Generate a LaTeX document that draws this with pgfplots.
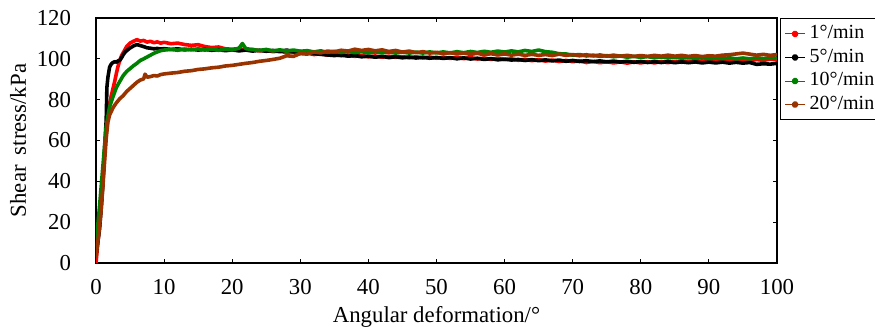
\documentclass[border=0pt]{standalone}
\usepackage{fontspec}
\setmainfont{Liberation Serif}
\usepackage{pgfplots}
\pgfplotsset{compat=1.18}
\definecolor{cRed}{RGB}{255,0,0}
\definecolor{cGreen}{RGB}{0,128,0}
\definecolor{cBrown}{RGB}{153,51,0}
\begin{document}
\fontsize{11.4}{13}\selectfont
\begin{tikzpicture}
\begin{axis}[
  at={(0pt,0pt)}, anchor=south west,
  width=340.5pt, height=122.5pt, scale only axis,
  xmin=0, xmax=100, ymin=0, ymax=120,
  xtick={0,10,...,100}, ytick={0,20,...,120},
  tick align=inside, major tick length=2pt,
  axis line style={line width=0.7pt}, tick style={line width=0.5pt, black},
  /pgf/number format/assume math mode=true,
  ticklabel style={font=\fontsize{11.4}{13}\selectfont},
  xticklabel style={yshift=-4pt},
  yticklabel style={xshift=-8.5pt},
  xlabel={Angular deformation/°},
  ylabel={Shear\hspace{0.45em}stress/kPa},
  xlabel style={at={(axis description cs:0.5,-0.22)}, anchor=center, font=\fontsize{11.4}{13}\selectfont},
  ylabel style={at={(axis description cs:-0.1145,0.5)}, anchor=center, rotate=0, font=\fontsize{11.4}{13}\selectfont},
  legend style={at={(1,1)}, anchor=north west, xshift=1.5pt, draw=black, line width=0.6pt,
     font=\fontsize{10}{11}\selectfont, inner xsep=2pt, inner ysep=1.5pt, row sep=-0.6pt,
     cells={anchor=west}},
  legend image code/.code={\draw[#1,line width=0.5pt] (0pt,0pt) -- (10pt,0pt); \fill[#1] (5pt,0pt) circle (0.9pt);},
  every axis plot/.append style={line width=1.8pt, line join=round, no marks},
]
\addplot[cRed] coordinates {
(0,0) (0.25,9) (0.5,18) (0.75,28) (1,40) (1.25,53) (1.5,64) (1.75,72) (2,78) (2.25,82) (2.5,85.5) (2.75,89) (3,93) (3.25,96.5) (3.5,99.4) (3.75,101.5) (4,103) (4.5,106) (5,107.7) (5.5,108.6) (6,109.4) (6.5,108.7) (7,109) (7.5,108.2) (8,108.6) (8.5,107.9) (9,108.3) (9.5,107.7) (10,108.1)
(11,107.4) (12,107.7) (13,107) (14,106.6) (15,106.9) (16,106) (17,105.5) (18,105.8) (19,104.9) (20,104.7) (21,105) (22,104.3) (23,104.6) (24,103.9) (25,104.2) (26,103.5) (27,103.9) (28,102.9) (29,103.3) (30,102.6)
(31,102.9) (32,102.1) (33,102.5) (34,101.8) (35,102.2) (36,101.5) (37,101.9) (38,101.2) (39,101.6) (40,101) (41,101.4) (42,100.8) (43,101.3) (44,100.7) (45,101.1) (46,100.5) (47,101) (48,100.4) (49,100.9) (50,100.3)
(51,100.8) (52,100.2) (53,100.7) (54,100.1) (55,100.6) (56,99.9) (57,100.4) (58,99.7) (59,100.2) (60,99.6) (61,100) (62,99.3) (63,99.8) (64,99.1) (65,99.6) (66,98.9) (67,99.4) (68,98.7) (69,99.2) (70,98.6)
(71,99) (72,98.2) (73,98.8) (74,98.1) (75,98.6) (76,98) (77,98.5) (78,97.9) (79,98.5) (80,98) (81,98.6) (82,98) (83,98.7) (84,98.1) (85,98.8) (86,98.3) (87,98.9) (88,98.4) (89,99) (90,98.5)
(91,99.1) (92,98.6) (93,99.2) (94,98.7) (95,99.4) (96,99) (97,99.7) (98,99.2) (99,99.9) (100,99.5)
};
\addlegendentry{1°/min}
\addplot[black] coordinates {
(0,4) (0.25,10) (0.5,16) (0.75,26) (1,38) (1.25,55) (1.5,70) (1.6,86) (1.75,91) (2,96) (2.25,97.5) (2.5,98.2) (2.75,98.6) (3,98.4) (3.25,99) (3.5,99.3) (3.75,100.5) (4,102) (4.25,103.2) (4.5,104) (5,105.3) (5.5,106.3) (6,107) (6.5,106.5) (7,106) (7.5,105.4) (8,105.2) (8.5,104.9) (9,105.1) (9.5,104.8) (10,105)
(11,104.6) (12,104.9) (13,104.4) (14,104.7) (15,104.3) (16,104.6) (17,104.2) (18,104.5) (19,104) (20,104.4) (21,103.9) (22,104.3) (23,103.8) (24,104.2) (25,103.7) (26,104.1) (27,103.5) (28,104.3) (29,103.4) (30,103.6)
(31,102.9) (32,102.6) (33,102.2) (34,101.9) (35,101.6) (36,101.9) (37,101.3) (38,101.6) (39,101) (40,101.3) (41,100.8) (42,101.2) (43,100.6) (44,101) (45,100.5) (46,100.9) (47,100.4) (48,100.8) (49,100.3) (50,100.7)
(51,100.2) (52,100.6) (53,100) (54,100.5) (55,99.9) (56,100.3) (57,99.7) (58,100.1) (59,99.5) (60,99.9) (61,99.4) (62,99.7) (63,99.2) (64,99.6) (65,99.1) (66,99.5) (67,99) (68,99.4) (69,98.8) (70,99.2)
(71,98.7) (72,99.1) (73,98.6) (74,99) (75,98.5) (76,98.9) (77,98.4) (78,98.8) (79,98.3) (80,98.7) (81,98.2) (82,98.6) (83,98.2) (84,98.6) (85,98.1) (86,98.5) (87,98.1) (88,98.5) (89,98) (90,98.4)
(91,98) (92,98.4) (93,97.9) (94,98.3) (95,97.9) (96,98.2) (97,97.3) (98,97.6) (99,97.4) (100,97.8)
};
\addlegendentry{5°/min}
\addplot[cGreen] coordinates {
(0,8) (0.25,18) (0.5,27) (0.75,37) (1,47) (1.25,57) (1.5,67) (1.75,72) (2,76.5) (2.5,81.5) (3,86) (3.5,89) (4,91.8) (4.5,93.8) (5,95.2) (5.5,96.6) (6,97.8) (6.5,99.2) (7,100) (7.5,100.9) (8,101.8) (8.5,102.7) (9,103.4) (9.5,104) (10,104.3)
(11,104.6) (12,104.2) (13,104.8) (14,104.4) (15,104.9) (16,104.3) (17,104.8) (18,104.2) (19,104.7) (20,104.4) (21,105.2) (21.5,107.5) (22,105) (23,104.5) (24,104.1) (25,104.6) (26,103.9) (27,104.4) (28,103.8) (29,104.3) (30,103.7)
(31,104) (32,103.4) (33,103.9) (34,103.2) (35,103.7) (36,103.1) (37,103.6) (38,103) (39,103.5) (40,102.9) (41,103.4) (42,102.9) (43,103.3) (44,102.8) (45,103.3) (46,102.8) (47,103.3) (48,102.8) (49,103.4) (50,102.9)
(51,103.4) (52,102.9) (53,103.5) (54,103) (55,103.6) (56,103.1) (57,103.7) (58,103.2) (59,103.8) (60,103.3) (61,103.9) (62,103.4) (63,104.1) (64,103.6) (65,104.3) (66,103.5) (67,103.2) (68,102.5) (69,102.4) (70,101.8)
(71,102.1) (72,101.4) (73,101.8) (74,101.2) (75,101.6) (76,101) (77,101.4) (78,100.8) (79,101.2) (80,100.7) (81,101.1) (82,100.5) (83,100.9) (84,100.4) (85,100.8) (86,100.3) (87,100.7) (88,100.2) (89,100.6) (90,100.1)
(91,100.5) (92,100.1) (93,100.5) (94,100) (95,100.4) (96,100) (97,100.5) (98,100.1) (99,100.6) (100,100.3)
};
\addlegendentry{10°/min}
\addplot[cBrown] coordinates {
(0,3) (0.25,10) (0.5,17) (0.75,26) (1,37) (1.25,49) (1.5,61) (1.75,69) (2,72.5) (2.5,76) (3,78.5) (3.5,80.5) (4,82) (4.5,84) (5,85.5) (5.5,87) (6,88.5) (6.5,89.6) (7,90.2) (7.2,92.5) (7.5,91) (8,91.3) (8.5,91.8) (9,91.6) (9.5,92.3) (10,92.6)
(11,93) (12,93.3) (13,93.9) (14,94.2) (15,94.8) (16,95.1) (17,95.6) (18,95.9) (19,96.5) (20,96.8) (21,97.3) (22,97.8) (23,98.2) (24,98.8) (25,99.2) (26,99.7) (27,100.3) (28,101.5) (29,101.2) (30,102.6)
(31,102.3) (32,103.3) (33,102.9) (34,103.8) (35,103.4) (36,104.2) (37,103.8) (38,104.7) (39,104.1) (40,104.6) (41,103.9) (42,104.4) (43,103.6) (44,104.1) (45,103.3) (46,103.8) (47,103) (48,103.5) (49,102.8) (50,103.2)
(51,102.5) (52,103) (53,102.4) (54,102.8) (55,102.2) (56,102.7) (57,102) (58,102.5) (59,101.9) (60,102.4) (61,101.8) (62,102.3) (63,101.7) (64,102.2) (65,101.7) (66,102.1) (67,101.6) (68,102.3) (69,101.7) (70,102.1)
(71,101.5) (72,102) (73,101.4) (74,101.9) (75,101.3) (76,101.8) (77,101.3) (78,101.7) (79,101.2) (80,101.6) (81,101.2) (82,101.7) (83,101.3) (84,101.8) (85,101.3) (86,101.7) (87,101.2) (88,101.6) (89,101.1) (90,101.5)
(91,101.3) (92,101.8) (93,102) (94,102.4) (95,102.8) (96,102.3) (97,101.8) (98,102.2) (99,101.7) (100,102.1)
};
\addlegendentry{20°/min}
\end{axis}
\pgfresetboundingbox
\path (-48pt,-32pt) rectangle (389.5pt,131.5pt);
\end{tikzpicture}
\end{document}
